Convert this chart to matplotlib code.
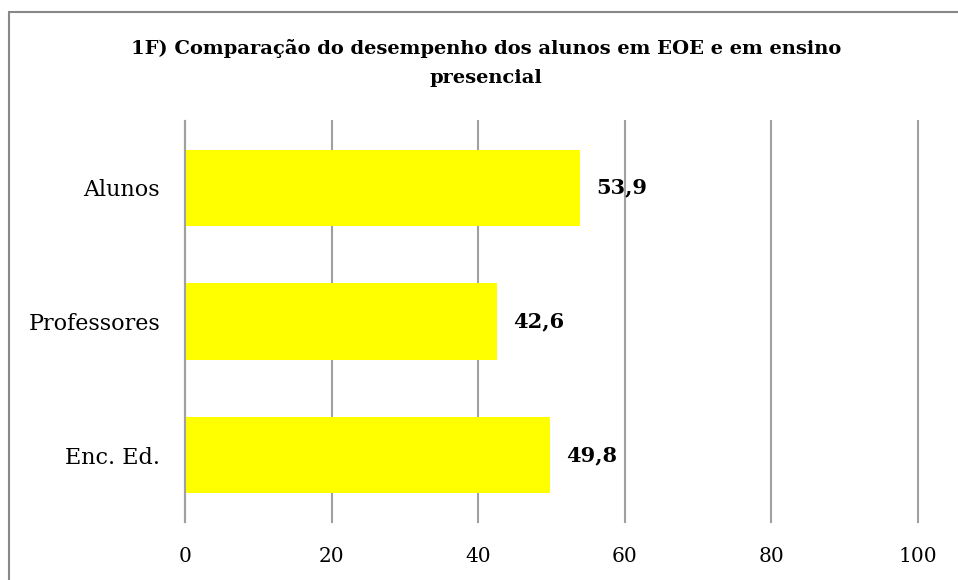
import matplotlib
matplotlib.use("Agg")
import matplotlib.pyplot as plt
from matplotlib.patches import Rectangle

categories = ["Alunos", "Professores", "Enc. Ed."]
values = [53.9, 42.6, 49.8]
value_labels = ["53,9", "42,6", "49,8"]
xticks = [0, 20, 40, 60, 80, 100]
title = "1F) Comparação do desempenho dos alunos em EOE e em ensino\npresencial"

W, H = 958, 580
fig = plt.figure(figsize=(W / 100, H / 100), dpi=100)
ax = fig.add_axes([185 / W, 1 - 522 / H, (918 - 185) / W, (522 - 121) / H])

ypos = list(range(len(categories)))
bars = ax.barh(ypos, values, height=0.57, color="#FFFF00", zorder=2)
ax.set_ylim(len(categories) - 0.5, -0.5)
ax.set_xlim(0, 100)
ax.set_xticks(xticks)
ax.set_xticklabels([str(t) for t in xticks], family="DejaVu Serif", fontsize=14.5)
ax.set_yticks(ypos)
ax.set_yticklabels(categories, family="DejaVu Serif", fontsize=16)
ax.tick_params(axis="both", length=0)
ax.tick_params(axis="y", pad=18)
ax.tick_params(axis="x", pad=18)
for s in ["top", "right", "bottom"]:
    ax.spines[s].set_visible(False)
ax.spines["left"].set_color("#a0a0a0")
ax.spines["left"].set_linewidth(1.5)
ax.grid(axis="x", color="#a0a0a0", linewidth=1.5, zorder=1)
for gl in ax.get_xgridlines():
    gl.set_clip_on(False)
ax.set_axisbelow(True)

ax.bar_label(bars, labels=value_labels, padding=11.5, fontsize=15,
             fontweight="bold", family="DejaVu Serif")

fig.text(486 / W, 1 - 63 / H, title, ha="center", va="center",
         fontsize=14, fontweight="bold", family="DejaVu Serif",
         linespacing=1.75)

fig.patches.append(Rectangle((9 / W, -0.05), 1.1, 1 - 12 / H + 0.05,
                             transform=fig.transFigure, fill=False,
                             edgecolor="#888888", linewidth=1.5))

fig.savefig("out.png", dpi=100)
